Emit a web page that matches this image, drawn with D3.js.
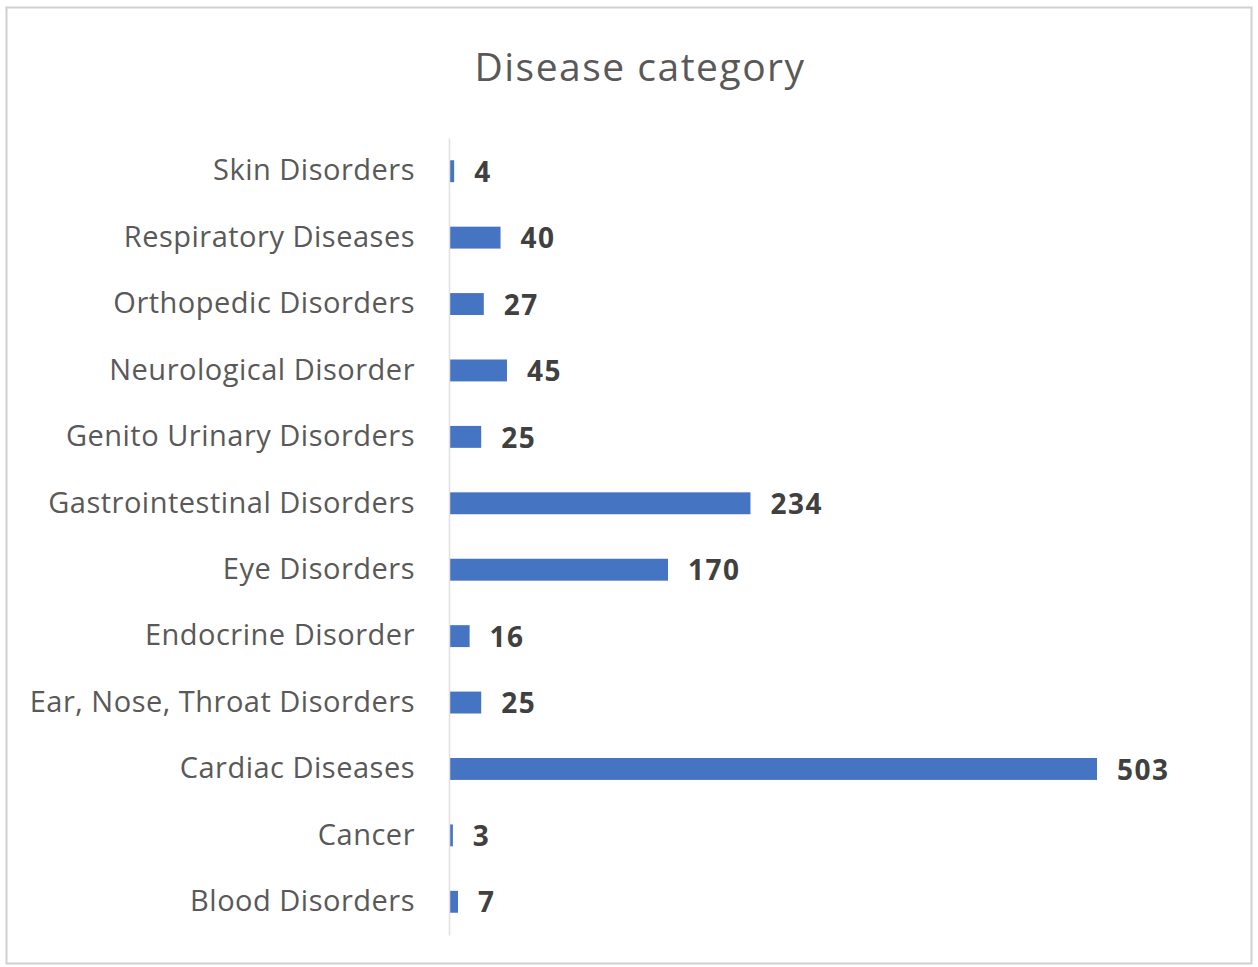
<!DOCTYPE html>
<html>
<head>
<meta charset="utf-8">
<script src="https://cdn.jsdelivr.net/npm/d3@7"></script>
<style>
body{margin:0;background:#fff;}
text{font-family:"Open Sans",Lato,sans-serif;}
</style>
</head>
<body>
<div id="chart"></div>
<script>
var categories = ["Skin Disorders","Respiratory Diseases","Orthopedic Disorders","Neurological Disorder","Genito Urinary Disorders","Gastrointestinal Disorders","Eye Disorders","Endocrine Disorder","Ear, Nose, Throat Disorders","Cardiac Diseases","Cancer","Blood Disorders"]
var counts = [4,40,27,45,25,234,170,16,25,503,3,7]

var width = 1258
var height = 967

var svg = d3.select("#chart").append("svg").attr("width",width).attr("height",height)

// chart border
svg.append("rect")
.attr("x",6.5).attr("y",7.5).attr("width",1245).attr("height",956)
.attr("fill","#fff").attr("stroke","#d0d0d0").attr("stroke-width",2)

svg.append("text").text("Disease category")
.attr("x",640).attr("y",81)
.attr("text-anchor","middle")
.attr("font-size",39)
.attr("letter-spacing",1.5)
.attr("fill","#595959")

var yScale = d3.scaleBand().domain(categories).range([138,935]).paddingInner(0.67).paddingOuter(0.335)
var xScale = d3.scaleLinear().domain([0,d3.max(counts)]).range([449,1097])

svg.selectAll(".bar")
.data(categories)
.enter()
.append("rect")
.attr("class","bar")
.attr("x",xScale(0))
.attr("y",function(d){return yScale(d)})
.attr("width",function(d,i){return xScale(counts[i])-xScale(0)})
.attr("height",yScale.bandwidth())
.attr("fill","#4574c2")

// category axis
var yAxis = d3.axisLeft(yScale).tickSize(0).tickPadding(34)
var ag = svg.append("g").attr("transform","translate("+xScale(0)+",0)").call(yAxis)
ag.select(".domain").attr("stroke","#e0e0e0").attr("stroke-width",1.5)
ag.selectAll("text")
.attr("font-size",29)
.attr("letter-spacing",0.5)
.attr("fill","#595959")
.style("font-family","'Open Sans', Lato, sans-serif")

svg.selectAll(".valueText")
.data(categories)
.enter()
.append("text")
.attr("class","valueText")
.attr("x",function(d,i){return xScale(counts[i])+20})
.attr("y",function(d){return yScale(d)+yScale.bandwidth()/2})
.attr("dy","0.38em")
.text(function(d,i){return counts[i]})
.attr("font-size",28)
.attr("letter-spacing",1.5)
.attr("font-weight","bold")
.attr("fill","#404040")
</script>
</body>
</html>
